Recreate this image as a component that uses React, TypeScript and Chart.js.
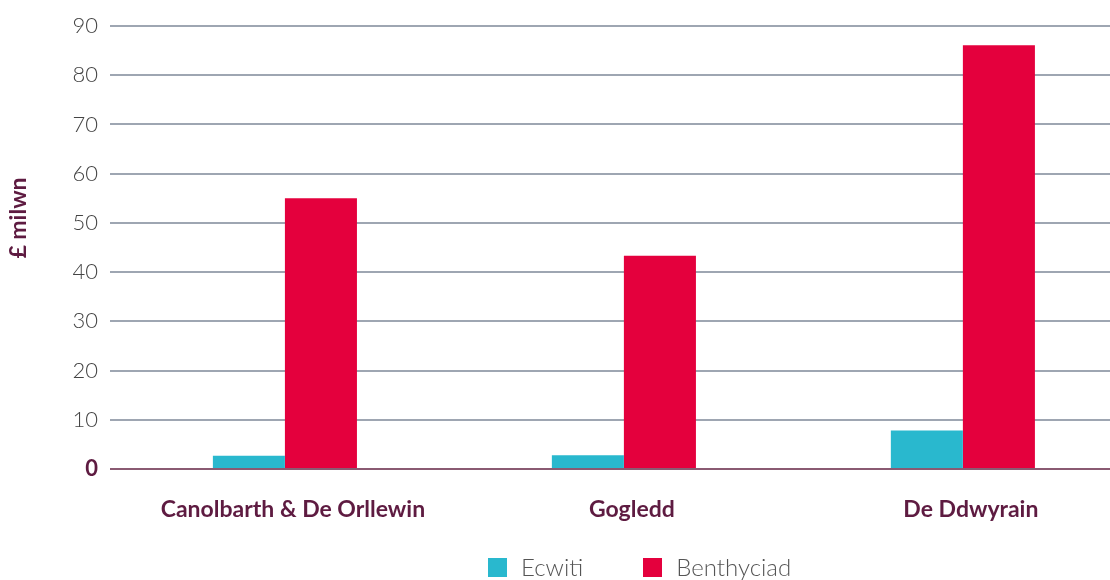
import React, { useEffect, useRef } from "react";
import { Chart, registerables } from "chart.js";
Chart.register(...registerables);

const categories = ["Canolbarth & De Orllewin", "Gogledd", "De Ddwyrain"];
const seriesNames = ["Ecwiti", "Benthyciad"];
const ecwiti = [2.7, 2.8, 7.8];
const benthyciad = [55, 43.3, 86.1];
const yTicks = [0, 10, 20, 30, 40, 50, 60, 70, 80, 90];
const yTitle = "£ milwn";

const TEAL = "#29b8ce";
const RED = "#e4003d";
const MAROON = "#5e1b41";
const GRID = "#9ea6b2";
const FONT = "Lato, 'Open Sans', sans-serif";

const yTitlePlugin = {
  id: "yTitlePlugin",
  afterDraw(chart: any) {
    const ctx = chart.ctx;
    ctx.save();
    ctx.font = `bold 23px ${FONT}`;
    ctx.fillStyle = MAROON;
    ctx.textAlign = "center";
    ctx.textBaseline = "middle";
    ctx.translate(19, 218);
    ctx.rotate(-Math.PI / 2);
    ctx.fillText(yTitle, 0, 0);
    ctx.restore();
  },
};

export default function App() {
  const ref = useRef<HTMLCanvasElement | null>(null);
  useEffect(() => {
    if (!ref.current) return;
    const chart = new Chart(ref.current, {
      type: "bar",
      data: {
        datasets: [
          {
            label: seriesNames[0],
            data: ecwiti.map((v, i) => ({ x: i, y: v })),
            backgroundColor: TEAL,
            categoryPercentage: 0.425,
            barPercentage: 1,
          },
          {
            label: seriesNames[1],
            data: benthyciad.map((v, i) => ({ x: i, y: v })),
            backgroundColor: RED,
            categoryPercentage: 0.425,
            barPercentage: 1,
          },
        ],
      },
      options: {
        animation: false,
        responsive: true,
        maintainAspectRatio: false,
        layout: { padding: { top: 26, right: 0, bottom: 0, left: 0 } },
        plugins: { legend: { display: false }, tooltip: { enabled: false } },
        scales: {
          x: {
            type: "linear",
            offset: false,
            min: -0.516,
            max: 2.434,
            afterBuildTicks: (scale: any) => {
              scale.ticks = categories.map((_, i) => ({ value: i }));
            },
            afterFit: (scale: any) => {
              scale.height = 111;
            },
            grid: { display: false, drawTicks: false },
            border: { display: false },
            ticks: {
              padding: 27,
              labelOffset: 8,
              autoSkip: false,
              maxRotation: 0,
              color: MAROON,
              font: { family: FONT, size: 23, weight: "bold" },
              callback: (v: any) => categories[v as number] ?? "",
            },
          },
          y: {
            min: 0,
            max: 90,
            afterBuildTicks: (scale: any) => {
              scale.ticks = yTicks.map((v) => ({ value: v }));
            },
            afterFit: (scale: any) => {
              scale.width = 110;
            },
            grid: {
              drawTicks: false,
              lineWidth: 2,
              color: (c: any) => (c.tick && c.tick.value === 0 ? "#8a5a72" : GRID),
            },
            border: { display: false },
            ticks: {
              padding: 12,
              color: (c: any) => (c.tick && c.tick.value === 0 ? MAROON : "#444444"),
              font: (c: any) =>
                c.tick && c.tick.value === 0
                  ? { family: FONT, size: 22, weight: "bold" }
                  : { family: FONT, size: 22, weight: 300 },
            },
          },
        },
      },
      plugins: [yTitlePlugin],
    });
    return () => chart.destroy();
  }, []);

  return (
    <div style={{ position: "absolute", left: 0, top: 0, width: 1110, height: 580, background: "#fff" }}>
      <canvas ref={ref} />
      <div
        style={{
          position: "absolute",
          left: 488,
          top: 553,
          display: "flex",
          alignItems: "center",
          fontFamily: FONT,
          fontWeight: 300,
          fontSize: 24,
          color: "#555",
          lineHeight: "28px",
        }}
      >
        {seriesNames.map((n, i) => (
          <div key={n} style={{ display: "flex", alignItems: "center", marginRight: i === 0 ? 60 : 0 }}>
            <span
              style={{
                display: "inline-block",
                width: 19,
                height: 19,
                background: i === 0 ? TEAL : RED,
                marginRight: 14,
              }}
            />
            <span>{n}</span>
          </div>
        ))}
      </div>
    </div>
  );
}
